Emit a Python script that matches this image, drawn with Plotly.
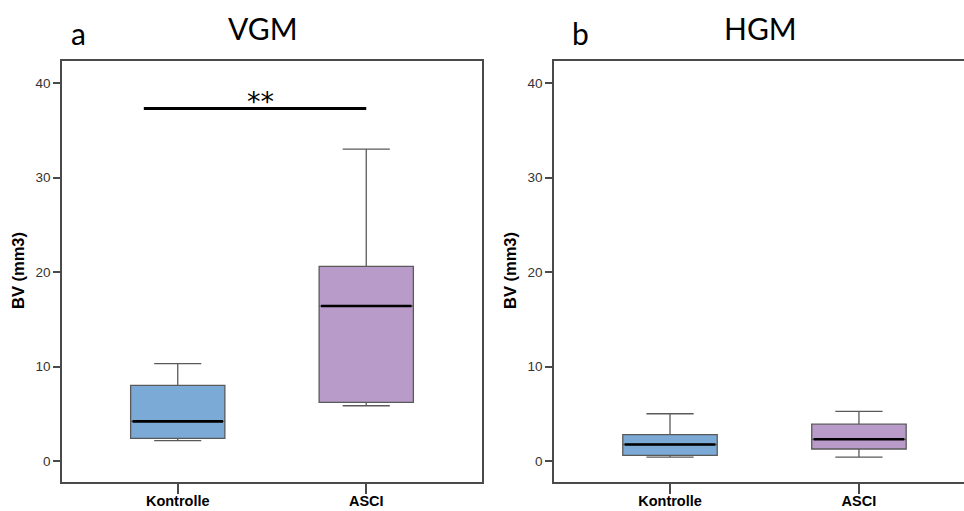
import plotly.graph_objects as go

categories = ["Kontrolle", "ASCI"]
colors = ["#7BAAD6", "#B89BC9"]

# panel a: VGM
vgm_lower = [2.15, 5.85]
vgm_q1 = [2.4, 6.2]
vgm_median = [4.2, 16.4]
vgm_q3 = [8.0, 20.6]
vgm_upper = [10.3, 33.0]

# panel b: HGM
hgm_lower = [0.42, 0.42]
hgm_q1 = [0.6, 1.27]
hgm_median = [1.75, 2.3]
hgm_q3 = [2.8, 3.9]
hgm_upper = [5.0, 5.25]

y_ticks = [0, 10, 20, 30, 40]
sig_y = 37.3
sig_x = [-0.18, 1.0]
sig_text = "**"

W, H = 964, 511
BOXW = 0.5

fig = go.Figure()

panels = [
    ("x", "y", vgm_lower, vgm_q1, vgm_median, vgm_q3, vgm_upper),
    ("x2", "y2", hgm_lower, hgm_q1, hgm_median, hgm_q3, hgm_upper),
]
for xa, ya, lo, q1, med, q3, up in panels:
    for i, cat in enumerate(categories):
        fig.add_trace(go.Box(
            x=[i], q1=[q1[i]], median=[med[i]], q3=[q3[i]],
            lowerfence=[lo[i]], upperfence=[up[i]],
            width=BOXW, whiskerwidth=0.5,
            fillcolor=colors[i], line=dict(color="#5a5a5a", width=1.3),
            xaxis=xa, yaxis=ya, showlegend=False, hoverinfo="skip",
        ))
        fig.add_trace(go.Scatter(
            x=[i - BOXW / 2 + 0.01, i + BOXW / 2 - 0.01], y=[med[i], med[i]],
            mode="lines", line=dict(color="black", width=2.6),
            xaxis=xa, yaxis=ya, showlegend=False, hoverinfo="skip",
        ))

# significance bar
fig.add_trace(go.Scatter(
    x=sig_x, y=[sig_y, sig_y], mode="lines",
    line=dict(color="black", width=3), xaxis="x", yaxis="y",
    showlegend=False, hoverinfo="skip",
))
fig.add_annotation(x=0.44, y=sig_y, xref="x", yref="y", text=sig_text,
                   showarrow=False, yanchor="middle", yshift=7,
                   font=dict(family="DejaVu Sans", size=27, color="black"))

yrange = [-2.22, 42.33]
x1_dom = [62 / W, 482 / W]
x2_dom = [554 / W, 1.0]
y_dom = [(H - 482) / H, (H - 61) / H]

tickfont = dict(family="Liberation Sans, Arial", size=13.5, color="#333")
catfont = dict(family="Liberation Sans, Arial", size=14.5, color="black")

common_x = dict(tickmode="array", tickvals=list(range(len(categories))),
                ticktext=["<b>%s</b>" % c for c in categories],
                showline=True, linecolor="#4a4a4a", linewidth=1.5,
                ticks="outside", ticklen=10, tickcolor="#4a4a4a", tickwidth=1.5,
                showgrid=False, zeroline=False, tickfont=catfont, fixedrange=True,
                automargin=False, ticklabelstandoff=-5)
common_y = dict(range=yrange, tickmode="array", tickvals=y_ticks,
                showline=True, linecolor="#4a4a4a", linewidth=1.5,
                ticks="outside", ticklen=7, tickcolor="#4a4a4a", tickwidth=1.5,
                showgrid=False, zeroline=False, tickfont=tickfont, fixedrange=True,
                automargin=False)

fig.update_layout(
    width=W, height=H,
    margin=dict(l=0, r=0, t=0, b=0, pad=0),
    paper_bgcolor="white", plot_bgcolor="white",
    xaxis=dict(domain=x1_dom, range=[-0.614, 1.614], mirror=True, anchor="y", **common_x),
    yaxis=dict(domain=y_dom, mirror=True, anchor="x", **common_y),
    xaxis2=dict(domain=x2_dom, range=[-0.614, 1.556], mirror=True, anchor="y2", **common_x),
    yaxis2=dict(domain=y_dom, mirror=False, anchor="x2", **common_y),
)

title_font = dict(family="Lato, Open Sans", size=30, color="black")
for txt, xp, yp in [("a", 78, 33), ("VGM", 262, 28), ("b", 580, 33), ("HGM", 760, 28)]:
    fig.add_annotation(x=xp / W, y=1 - yp / H, xref="paper", yref="paper",
                       text=txt, showarrow=False, xanchor="center", yanchor="middle",
                       font=title_font)

for xp in [18, 510]:
    fig.add_annotation(x=xp / W, y=1 - 271 / H, xref="paper", yref="paper",
                       text="<b>BV (mm3)</b>", textangle=-90, showarrow=False,
                       xanchor="center", yanchor="middle",
                       font=dict(family="Liberation Sans, Arial", size=16.5, color="black"))

fig.write_html("out.html", config={"displayModeBar": False},
               post_script="document.body.style.margin='0';document.body.style.overflow='hidden';")
